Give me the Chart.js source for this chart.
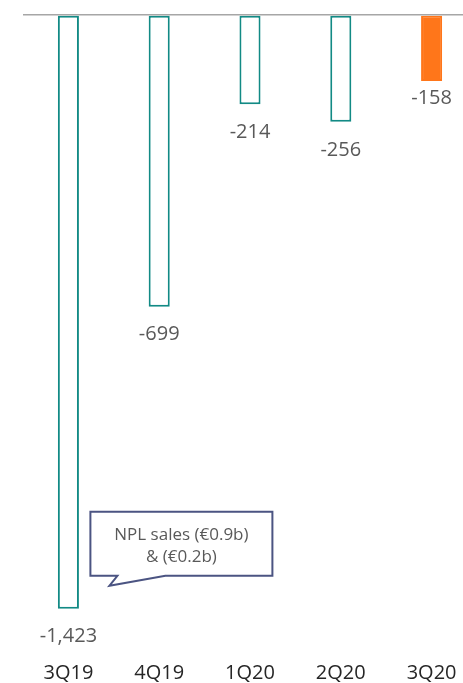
<!DOCTYPE html>
<html>
<head>
<meta charset="utf-8">
<script src="https://cdn.jsdelivr.net/npm/chart.js@4/dist/chart.umd.min.js"></script>
<style>
  html, body { margin: 0; padding: 0; background: #fff; overflow: hidden; }
  #wrap { width: 477px; height: 700px; position: relative; }
</style>
</head>
<body>
<div id="wrap"><canvas id="chart"></canvas></div>
<script>
const quarters = ["3Q19", "4Q19", "1Q20", "2Q20", "3Q20"];
const values = [-1423, -699, -214, -256, -158];
const highlight = [false, false, false, false, true];
const calloutLines = ["NPL sales (€0.9b)", "& (€0.2b)"];
const calloutValue = -1368;

const TEAL = "#128a85";
const ORANGE = "#ff761a";
const FONT = "'Open Sans', 'Noto Sans', sans-serif";

const labelPlugin = {
  id: "barLabels",
  afterDatasetsDraw(chart) {
    const { ctx } = chart;
    const meta = chart.getDatasetMeta(0);
    ctx.save();
    ctx.font = `20px ${FONT}`;
    ctx.fillStyle = "#595959";
    ctx.textAlign = "center";
    ctx.textBaseline = "middle";
    meta.data.forEach((bar, i) => {
      const offset = highlight[i] ? 17 : 28;
      ctx.fillText(values[i].toLocaleString("en-US"), bar.x, bar.y + offset);
    });

    // callout next to the first bar
    const x0 = chart.scales.x.getPixelForValue(0);
    const tipY = chart.scales.y.getPixelForValue(calloutValue);
    const left = x0 + 22, right = x0 + 204;
    const top = tipY - 74, bottom = tipY - 10;
    ctx.beginPath();
    ctx.moveTo(left, top);
    ctx.lineTo(right, top);
    ctx.lineTo(right, bottom);
    ctx.lineTo(x0 + 97, bottom);
    ctx.lineTo(x0 + 41, tipY);
    ctx.lineTo(x0 + 49, bottom);
    ctx.lineTo(left, bottom);
    ctx.closePath();
    ctx.fillStyle = "#ffffff";
    ctx.fill();
    ctx.strokeStyle = "#4b5482";
    ctx.lineWidth = 2;
    ctx.stroke();

    ctx.font = `17px ${FONT}`;
    ctx.fillStyle = "#595959";
    const cx = (left + right) / 2;
    ctx.fillText(calloutLines[0], cx, top + 23);
    ctx.fillText(calloutLines[1], cx, top + 45);
    ctx.restore();
  },
};

new Chart(document.getElementById("chart"), {
  type: "bar",
  data: {
    labels: quarters,
    datasets: [
      {
        data: values,
        backgroundColor: highlight.map((h) => (h ? ORANGE : "#ffffff")),
        borderColor: highlight.map((h) => (h ? ORANGE : TEAL)),
        borderWidth: 2,
        borderSkipped: false,
        categoryPercentage: 1,
        barPercentage: 0.232,
      },
    ],
  },
  options: {
    responsive: true,
    maintainAspectRatio: false,
    animation: false,
    layout: { padding: { top: 15, left: 23, right: 0, bottom: 0 } },
    plugins: {
      legend: { display: false },
      tooltip: { enabled: false },
    },
    scales: {
      x: {
        grid: { display: false },
        border: { display: false },
        ticks: { color: "#262626", font: { family: FONT, size: 20 }, padding: 15 },
      },
      y: {
        min: -1493,
        max: 0,
        ticks: { display: false, stepSize: 500 },
        border: { display: false },
        grid: {
          drawTicks: false,
          lineWidth: 1.5,
          color: (c) => (c.tick && c.tick.value === 0 ? "#a6a6a6" : "rgba(0,0,0,0)"),
        },
      },
    },
  },
  plugins: [labelPlugin],
});
</script>
</body>
</html>
